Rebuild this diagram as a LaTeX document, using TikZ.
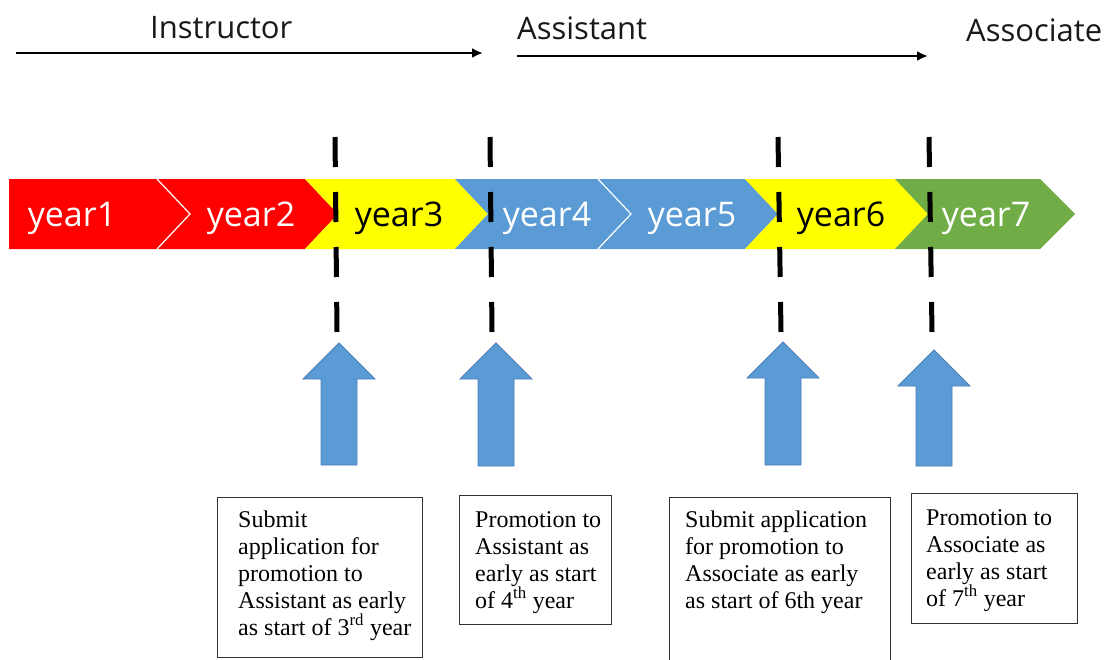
\documentclass[tikz,border=0pt]{standalone}
\usepackage{fontspec}
\setmainfont{Liberation Serif}
\newfontfamily\osans{Open Sans}
\usetikzlibrary{arrows.meta,calc}
\definecolor{cred}{HTML}{FF0000}
\definecolor{cyel}{HTML}{FFFF00}
\definecolor{cblue}{HTML}{5B9BD5}
\definecolor{cgreen}{HTML}{70AD47}
\definecolor{cblueline}{HTML}{4A7EBB}
\begin{document}
\begin{tikzpicture}[x=1pt,y=-1pt,
  toplabel/.style={font=\osans\fontsize{31}{37}\selectfont, anchor=base west, inner sep=0pt, text=black!90},
  topline/.style={line width=2.2pt, -{Latex[length=11pt,width=10pt]}},
  yearlabel/.style={font=\osans\fontsize{34}{40}\selectfont, anchor=base, inner sep=0pt},
  sepline/.style={draw=white, line width=1.2pt},
  dashline/.style={line width=5pt, dash pattern=on 30pt off 25pt},
  blockarrow/.style={fill=cblue, draw=cblueline, line width=0.8pt},
  frame/.style={draw=black!80, line width=1.3pt, anchor=north west, inner sep=0pt},
  boxtext/.style={anchor=base west, inner sep=0pt, font=\fontsize{24}{27}\selectfont}
]
\useasboundingbox (0,0) rectangle (1111,659);
\clip (0,0) rectangle (1111,659);

% top labels and arrows
\node[toplabel] (linstr) at (150,38) {Instructor};
\node[toplabel] (lassi) at (517,39) {Assistant};
\node[toplabel] (lasso) at (966,41) {Associate};
\coordinate (a1s) at (16,53);
\coordinate (a1e) at (483,53);
\coordinate (a2s) at (517,56);
\coordinate (a2e) at (928,56);
\draw[topline] (a1s) -- (a1e);
\draw[topline] (a2s) -- (a2e);

% chevron bar
\fill[cred] (9,179) -- (305,179) -- (338,214) -- (305,249) -- (9,249) -- cycle;
\draw[sepline] (157,179) -- (190,214) -- (157,249);
\fill[cyel] (305,179) -- (455,179) -- (488,214) -- (455,249) -- (305,249) -- (338,214) -- cycle;
\fill[cblue] (455,179) -- (745,179) -- (778,214) -- (745,249) -- (455,249) -- (488,214) -- cycle;
\draw[sepline] (598,179) -- (631,214) -- (598,249);
\fill[cyel] (745,179) -- (895,179) -- (928,214) -- (895,249) -- (745,249) -- (778,214) -- cycle;
\fill[cgreen] (895,179) -- (1040,179) -- (1075,214) -- (1040,249) -- (895,249) -- (928,214) -- cycle;

\node[yearlabel, text=white] (y1) at (72,226) {year1};
\node[yearlabel, text=white] (y2) at (251,226) {year2};
\node[yearlabel, text=black] (y3) at (399,226) {year3};
\node[yearlabel, text=white] (y4) at (547,226) {year4};
\node[yearlabel, text=white] (y5) at (692,226) {year5};
\node[yearlabel, text=black] (y6) at (841,226) {year6};
\node[yearlabel, text=white] (y7) at (986,226) {year7};

% dashed markers
\draw[dashline] (335,137) -- (337,332);
\draw[dashline] (490,137) -- (492,332);
\draw[dashline] (778,137) -- (781,332);
\draw[dashline] (929,137) -- (932,332);

% block arrows
\foreach \cx/\ty/\by in {339/343/465, 496/343/466, 783/342/465, 934/350/466}{
  \draw[blockarrow] (\cx,\ty) -- (\cx+36,\ty+36) -- (\cx+18,\ty+36) -- (\cx+18,\by)
     -- (\cx-18,\by) -- (\cx-18,\ty+36) -- (\cx-36,\ty+36) -- cycle;
}

% boxes
\node[frame, minimum width=205pt, minimum height=160pt] (b1) at (217,497) {};
\node[frame, minimum width=152pt, minimum height=129pt] (b2) at (459,495) {};
\node[frame, minimum width=221pt, minimum height=180pt] (b3) at (669,497) {};
\node[frame, minimum width=166pt, minimum height=130pt] (b4) at (911,493) {};

\node[boxtext] (t1) at (238,527) {\parbox[t]{185pt}{Submit\\application for\\promotion to\\Assistant as early\\as start of 3\textsuperscript{rd} year}};
\node[boxtext] (t2) at (475,527) {\parbox[t]{135pt}{Promotion to\\Assistant as\\early as start\\of 4\textsuperscript{th} year}};
\node[boxtext] (t3) at (685,527) {\parbox[t]{200pt}{Submit application\\for promotion to\\Associate as early\\as start of 6th year}};
\node[boxtext] (t4) at (926,525) {\parbox[t]{150pt}{Promotion to\\Associate as\\early as start\\of 7\textsuperscript{th} year}};
\end{tikzpicture}
\end{document}
